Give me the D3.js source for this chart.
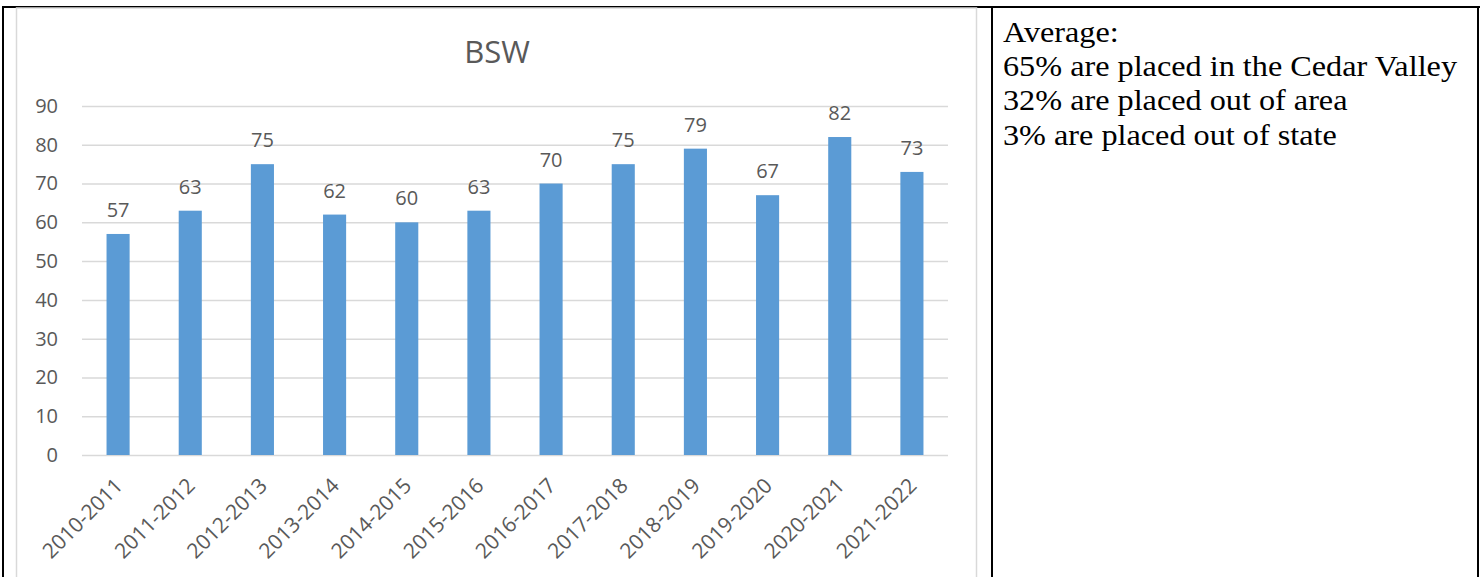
<!DOCTYPE html>
<html>
<head>
<meta charset="utf-8">
<script src="https://cdn.jsdelivr.net/npm/d3@7"></script>
<style>
  body { margin: 0; background: #fff; }
  svg { display: block; }
</style>
</head>
<body>
<div id="wrapper"></div>
<script>
// data
let years = ['2010-2011', '2011-2012', '2012-2013', '2013-2014', '2014-2015', '2015-2016',
             '2016-2017', '2017-2018', '2018-2019', '2019-2020', '2020-2021', '2021-2022'];
let placed = [57, 63, 75, 62, 60, 63, 70, 75, 79, 67, 82, 73];
let yTicks = [0, 10, 20, 30, 40, 50, 60, 70, 80, 90];
let chartTitle = 'BSW';
let noteLines = [
    'Average:',
    '65% are placed in the Cedar Valley',
    '32% are placed out of area',
    '3% are placed out of state'
];

let width = 1484, height = 577;
let svg = d3.select('#wrapper').append('svg')
    .attr('width', width)
    .attr('height', height);

//// table borders ////
let table = svg.append('g').classed('table', true);
table.append('line').attr('x1', 2).attr('x2', 1480).attr('y1', 7).attr('y2', 7)
    .attr('stroke', '#000').attr('stroke-width', 2);
[3, 992, 1478].forEach(x => {
    table.append('line').attr('x1', x).attr('x2', x).attr('y1', 6).attr('y2', height)
        .attr('stroke', '#000').attr('stroke-width', 2);
});

// chart frame (gray)
svg.append('rect').attr('x', 16.5).attr('y', 8).attr('width', 960).attr('height', 600)
    .attr('fill', '#fff').attr('stroke', '#d9d9d9').attr('stroke-width', 1.5);

//// SCALES ////
let xScale = d3.scaleBand().domain(years).range([82, 948]).paddingInner(0.68).paddingOuter(0.34);
let yScale = d3.scaleLinear().domain([0, 90]).range([455, 106]);

let font = "'Open Sans', sans-serif";
let gray = '#595959';

// title
svg.append('text').text(chartTitle)
    .attr('x', 497).attr('y', 63)
    .attr('text-anchor', 'middle')
    .style('font-family', font).style('font-size', '31px').attr('fill', gray);

// y axis + gridlines
let yAxis = d3.axisLeft(yScale).tickValues(yTicks).tickSize(-(948 - 82)).tickPadding(24);
let yG = svg.append('g').attr('transform', 'translate(82,0)').call(yAxis);
yG.select('.domain').remove();
yG.selectAll('.tick line').attr('stroke', '#d9d9d9').attr('stroke-width', 1.5);
yG.selectAll('.tick text').style('font-family', font).style('font-size', '20px').attr('fill', gray);

// bars
let bars = svg.append('g').selectAll('rect').data(placed).enter().append('rect')
    .attr('x', (d, i) => xScale(years[i]))
    .attr('y', d => yScale(d))
    .attr('width', xScale.bandwidth())
    .attr('height', d => yScale(0) - yScale(d))
    .attr('fill', '#5b9bd5');

// value labels
svg.append('g').selectAll('text').data(placed).enter().append('text')
    .text(d => d)
    .attr('x', (d, i) => xScale(years[i]) + xScale.bandwidth() / 2)
    .attr('y', d => yScale(d) - 17)
    .attr('text-anchor', 'middle')
    .style('font-family', font).style('font-size', '20px').attr('fill', gray);

// x labels, rotated
let xAxis = d3.axisBottom(xScale).tickSize(0).tickPadding(0);
let xG = svg.append('g').attr('transform', 'translate(0,' + yScale(0) + ')').call(xAxis);
xG.select('.domain').remove();
xG.selectAll('.tick text')
    .attr('y', 0)
    .attr('dy', 0)
    .attr('transform', 'translate(6,32) rotate(-45)')
    .attr('text-anchor', 'end')
    .style('font-family', font).style('font-size', '21px').attr('fill', gray);

// right cell note
let note = svg.append('g').attr('transform', 'translate(1003,0) scale(1.075,1)');
note.selectAll('text').data(noteLines).enter().append('text')
    .text(d => d)
    .attr('x', 0)
    .attr('y', (d, i) => 42 + i * 34.2)
    .style('font-family', "'Liberation Serif', 'Times New Roman', serif")
    .style('font-size', '30px').attr('fill', '#000');
</script>
</body>
</html>
